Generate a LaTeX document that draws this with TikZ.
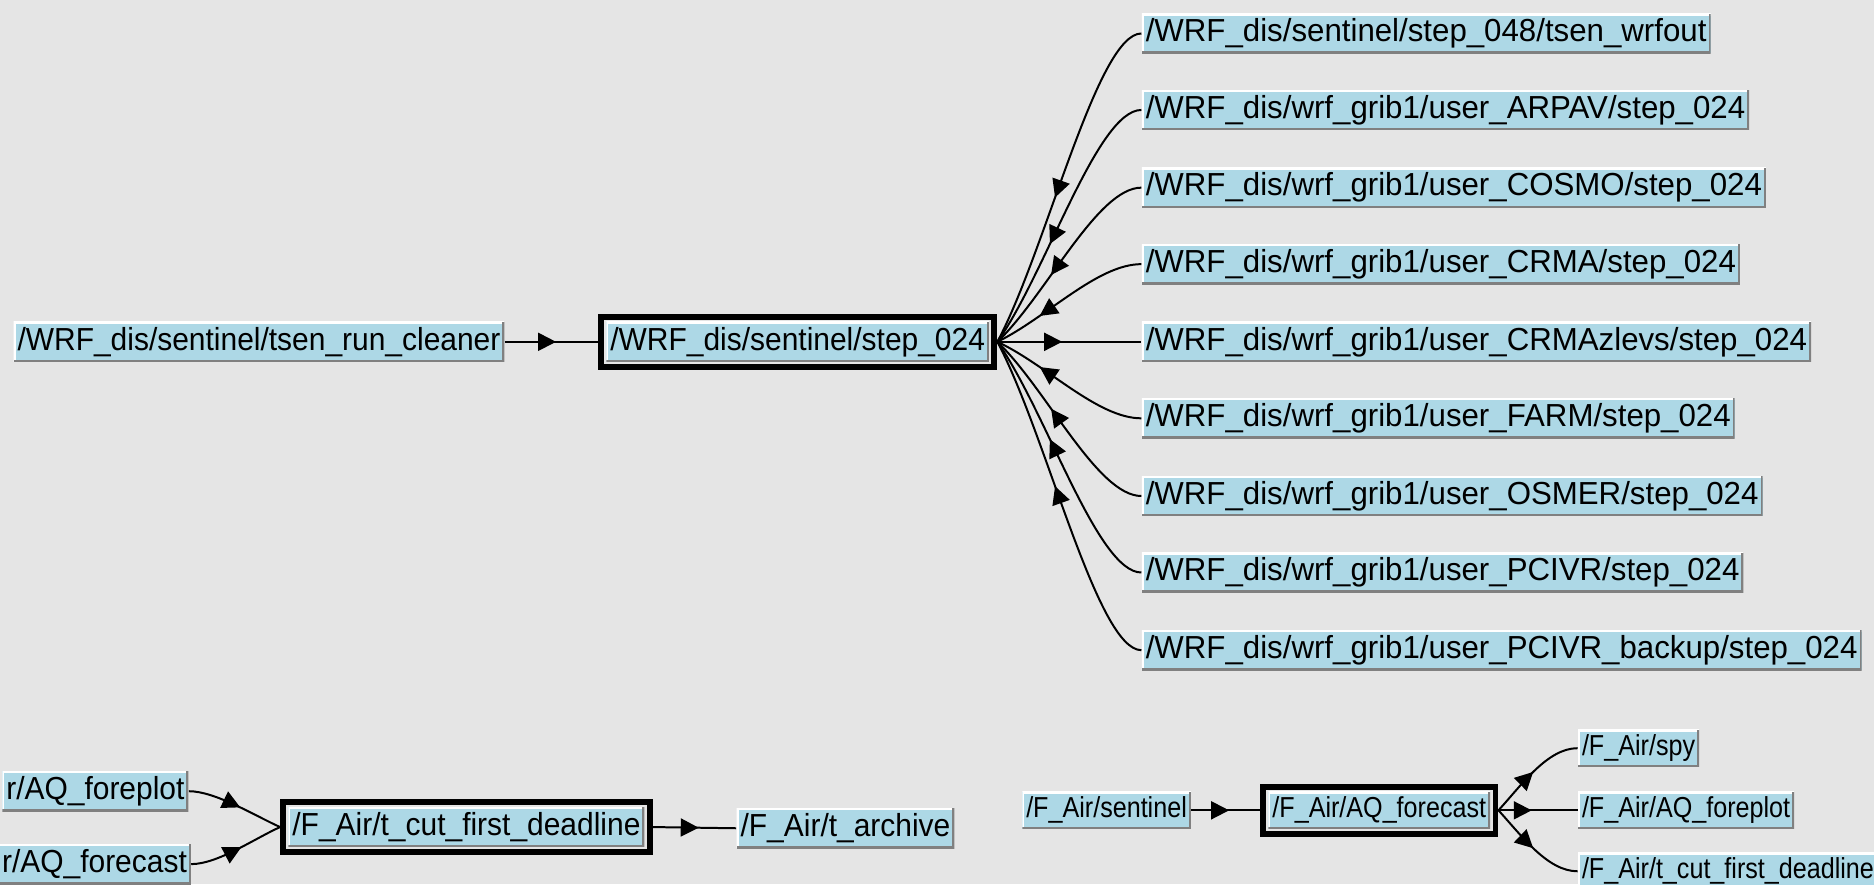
\documentclass[tikz,border=0pt]{standalone}
\usepackage{fontspec}
\setmainfont[FakeStretch=0.94]{Liberation Sans}
\newfontfamily\wrffont[FakeStretch=0.98]{Liberation Sans}
\newfontfamily\airfont[FakeStretch=0.87]{Liberation Sans}
\usetikzlibrary{positioning,calc,arrows.meta,decorations.markings}
\definecolor{bggray}{HTML}{E5E5E5}
\definecolor{taskblue}{HTML}{ADD8E6}
\definecolor{shadegray}{HTML}{808080}
\tikzstyle{task} = [rectangle, anchor=west, fill=taskblue, minimum height=20pt, inner xsep=2pt, inner ysep=0pt, font=\fontsize{16}{16}\selectfont,
  path picture={\draw[white, line width=2pt] (path picture bounding box.south west) -- (path picture bounding box.north west) -- (path picture bounding box.north east);
    \draw[shadegray, line width=2pt] (path picture bounding box.north east) -- (path picture bounding box.south east) -- (path picture bounding box.south west);}]
\tikzstyle{wrftask} = [task, font=\wrffont\fontsize{16}{16}\selectfont]
\tikzstyle{airtask} = [task, minimum height=18.5pt, font=\airfont\fontsize{14.5}{14.5}\selectfont]
\tikzstyle{frame} = [draw=black, line width=3pt]
\tikzset{dep/.style={line width=1pt, postaction={decorate}, decoration={markings, mark=at position #1 with {\arrow{Triangle[length=9pt,width=9pt]}}}}, dep/.default=0.55}

\begin{document}
\begin{tikzpicture}[x=0.6pt,y=-0.6pt]
\useasboundingbox (0,0) rectangle (1568,740);
\fill[bggray] (0,0) rectangle (1568,740);
\clip (0,0) rectangle (1568,740);
% sentinel tree
\draw (11,286) node[task] (cleaner) {/WRF\_dis/sentinel/tsen\_run\_cleaner};
\draw (507,286) node[task] (step24) {/WRF\_dis/sentinel/step\_024};
\draw (955,28) node[wrftask] (wrfout) {/WRF\_dis/sentinel/step\_048/tsen\_wrfout};
\draw (955,92) node[wrftask] (arpav) {/WRF\_dis/wrf\_grib1/user\_ARPAV/step\_024};
\draw (955,157) node[wrftask] (cosmo) {/WRF\_dis/wrf\_grib1/user\_COSMO/step\_024};
\draw (955,221) node[wrftask] (crma) {/WRF\_dis/wrf\_grib1/user\_CRMA/step\_024};
\draw (955,286) node[wrftask] (zlevs) {/WRF\_dis/wrf\_grib1/user\_CRMAzlevs/step\_024};
\draw (955,350) node[wrftask] (farm) {/WRF\_dis/wrf\_grib1/user\_FARM/step\_024};
\draw (955,415) node[wrftask] (osmer) {/WRF\_dis/wrf\_grib1/user\_OSMER/step\_024};
\draw (955,479) node[wrftask] (pcivr) {/WRF\_dis/wrf\_grib1/user\_PCIVR/step\_024};
\draw (955,544) node[wrftask] (backup) {/WRF\_dis/wrf\_grib1/user\_PCIVR\_backup/step\_024};
\draw[frame] ($(step24.south west)+(-2.5pt,-2.5pt)$) rectangle ($(step24.north east)+(2.5pt,2.5pt)$);
\coordinate (s24w) at ($(step24.west)+(-4pt,0)$);
\coordinate (s24e) at ($(step24.east)+(4pt,0)$);
\draw[dep] (cleaner.east) -- (s24w);
\draw[dep=0.55] (wrfout.west) .. controls +(-37,0) and +(41,-77) .. (s24e);
\draw[dep=0.6] (arpav.west) .. controls +(-37,0) and +(41,-58) .. (s24e);
\draw[dep=0.6] (cosmo.west) .. controls +(-37,0) and +(41,-39) .. (s24e);
\draw[dep=0.7] (crma.west) .. controls +(-37,0) and +(41,-20) .. (s24e);
\draw[dep=0.45] (s24e) -- (zlevs.west);
\draw[dep=0.7] (farm.west) .. controls +(-37,0) and +(41,19) .. (s24e);
\draw[dep=0.6] (osmer.west) .. controls +(-37,0) and +(41,39) .. (s24e);
\draw[dep=0.6] (pcivr.west) .. controls +(-37,0) and +(41,58) .. (s24e);
\draw[dep=0.55] (backup.west) .. controls +(-37,0) and +(41,77) .. (s24e);
% F_Air deadline
\draw (158,662) node[task, anchor=east] (foreplot) {r/AQ\_foreplot};
\draw (160,723) node[task, anchor=east] (forecast) {r/AQ\_forecast};
\draw (241,692) node[task] (tcut) {/F\_Air/t\_cut\_first\_deadline};
\draw (616,693) node[task] (archive) {/F\_Air/t\_archive};
\draw[frame] ($(tcut.south west)+(-2.5pt,-2.5pt)$) rectangle ($(tcut.north east)+(2.5pt,2.5pt)$);
\coordinate (tcutw) at ($(tcut.west)+(-4pt,0)$);
\coordinate (tcute) at ($(tcut.east)+(4pt,0)$);
\draw[dep=0.55] (foreplot.east) .. controls +(22,0) and +(-22,-10) .. (tcutw);
\draw[dep=0.55] (forecast.east) .. controls +(22,0) and +(-22,10) .. (tcutw);
\draw[dep] (tcute) -- (archive.west);
% F_Air forecast
\draw (855,678) node[airtask] (sentinel) {/F\_Air/sentinel};
\draw (1061,678) node[airtask] (aqfc) {/F\_Air/AQ\_forecast};
\draw (1320,626) node[airtask] (spy) {/F\_Air/spy};
\draw (1320,678) node[airtask] (aqfp) {/F\_Air/AQ\_foreplot};
\draw (1320,729) node[airtask] (tcutb) {/F\_Air/t\_cut\_first\_deadline};
\draw[frame] ($(aqfc.south west)+(-2.5pt,-2.5pt)$) rectangle ($(aqfc.north east)+(2.5pt,2.5pt)$);
\coordinate (aqw) at ($(aqfc.west)+(-4pt,0)$);
\coordinate (aqe) at ($(aqfc.east)+(4pt,0)$);
\draw[dep] (sentinel.east) -- (aqw);
\draw[dep=0.5] (aqe) .. controls +(20,-22) and +(-25,0) .. (spy.west);
\draw[dep=0.42] (aqe) -- (aqfp.west);
\draw[dep=0.5] (aqe) .. controls +(20,22) and +(-25,0) .. (tcutb.west);
\end{tikzpicture}
\end{document}
